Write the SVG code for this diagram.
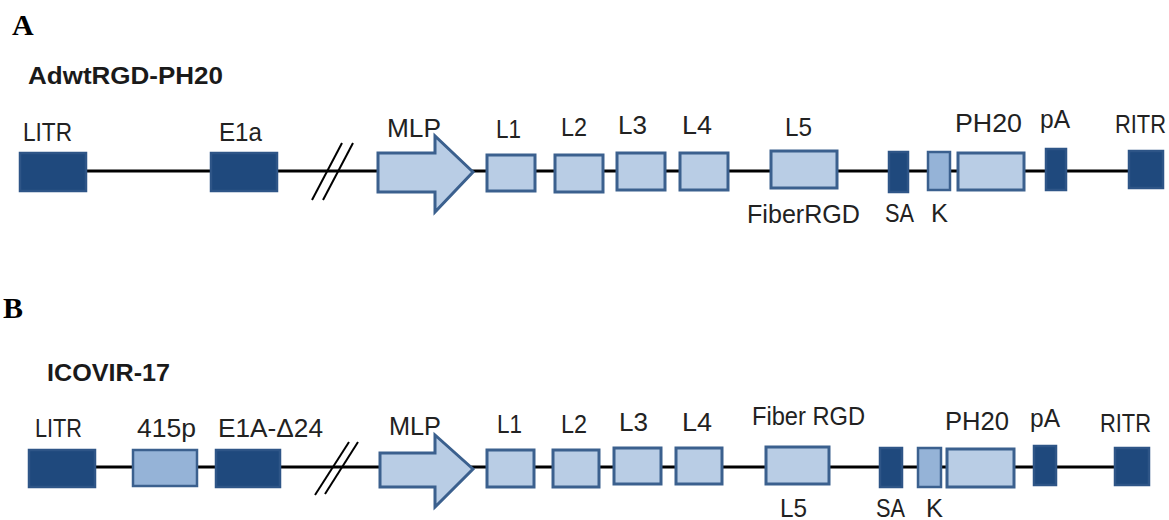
<svg xmlns="http://www.w3.org/2000/svg" width="1169" height="520" viewBox="0 0 1169 520">
  <style>
    .panel { font-family: "Liberation Serif", "Times New Roman", serif; font-weight: bold; font-size: 30px; fill: #000; }
    .title { font-family: "Liberation Sans", Arial, sans-serif; font-weight: bold; font-size: 24px; fill: #1a1a1a; }
    .lbl { font-family: "Liberation Sans", Arial, sans-serif; font-size: 26.5px; fill: #222; }
    .dark { fill: #1f497d; stroke: #2e5587; stroke-width: 2.5; }
    .light { fill: #b9cde5; stroke: #3b608e; stroke-width: 3; }
    .mid { fill: #95b3d7; stroke: #3b608e; stroke-width: 2.5; }
    .backbone { stroke: #000; stroke-width: 3; fill: none; }
    .cut { stroke: #000; stroke-width: 2; fill: none; }
  </style>

  <rect width="1169" height="520" fill="#fff"/>

  <!-- Panel A: AdwtRGD-PH20 -->
  <text class="panel" x="12" y="35">A</text>
  <text class="title" x="28" y="84" textLength="195" lengthAdjust="spacingAndGlyphs">AdwtRGD-PH20</text>

  <g id="connectors-a">
    <line class="backbone" x1="86" y1="171" x2="1129" y2="171"/>
    <line class="cut" x1="342" y1="143" x2="312" y2="200"/>
    <line class="cut" x1="353" y1="143" x2="323" y2="200"/>
  </g>

  <g id="a-litr"><rect class="dark" x="20" y="153" width="66" height="38"/>
    <text class="lbl" x="23" y="141" textLength="49" lengthAdjust="spacingAndGlyphs">LITR</text></g>
  <g id="a-e1a"><rect class="dark" x="211" y="153" width="66" height="38"/>
    <text class="lbl" x="219" y="141" textLength="43" lengthAdjust="spacingAndGlyphs">E1a</text></g>
  <g id="a-mlp"><polygon class="light" points="378,153 435,153 435,136 473,172 435,212 435,192 378,192"/>
    <text class="lbl" x="387" y="137" textLength="54" lengthAdjust="spacingAndGlyphs">MLP</text></g>
  <g id="a-l1"><rect class="light" x="487" y="155" width="48" height="36"/>
    <text class="lbl" x="496" y="138" textLength="25" lengthAdjust="spacingAndGlyphs">L1</text></g>
  <g id="a-l2"><rect class="light" x="555" y="155" width="48" height="37"/>
    <text class="lbl" x="561" y="136" textLength="26" lengthAdjust="spacingAndGlyphs">L2</text></g>
  <g id="a-l3"><rect class="light" x="617" y="153" width="48" height="37"/>
    <text class="lbl" x="618" y="134" textLength="29" lengthAdjust="spacingAndGlyphs">L3</text></g>
  <g id="a-l4"><rect class="light" x="680" y="153" width="48" height="37"/>
    <text class="lbl" x="682" y="134" textLength="30" lengthAdjust="spacingAndGlyphs">L4</text></g>
  <g id="a-l5"><rect class="light" x="771" y="151" width="66" height="37"/>
    <text class="lbl" x="785" y="136" textLength="27" lengthAdjust="spacingAndGlyphs">L5</text>
    <text class="lbl" x="747" y="223" textLength="113" lengthAdjust="spacingAndGlyphs">FiberRGD</text></g>
  <g id="a-sa"><rect class="dark" x="889" y="152" width="19" height="40"/>
    <text class="lbl" x="885" y="222" textLength="29" lengthAdjust="spacingAndGlyphs">SA</text></g>
  <g id="a-k"><rect class="mid" x="928" y="152" width="22" height="38"/>
    <text class="lbl" x="931" y="222" textLength="17" lengthAdjust="spacingAndGlyphs">K</text></g>
  <g id="a-ph20"><rect class="light" x="958" y="153" width="66" height="37"/>
    <text class="lbl" x="955" y="132" textLength="67" lengthAdjust="spacingAndGlyphs">PH20</text></g>
  <g id="a-pa"><rect class="dark" x="1046" y="149" width="20" height="41"/>
    <text class="lbl" x="1040" y="128" textLength="30" lengthAdjust="spacingAndGlyphs">pA</text></g>
  <g id="a-ritr"><rect class="dark" x="1129" y="151" width="34" height="37"/>
    <text class="lbl" x="1115" y="133" textLength="51" lengthAdjust="spacingAndGlyphs">RITR</text></g>

  <!-- Panel B: ICOVIR-17 -->
  <text class="panel" x="3" y="318">B</text>
  <text class="title" x="47" y="381" textLength="123" lengthAdjust="spacingAndGlyphs">ICOVIR-17</text>

  <g id="connectors-b">
    <line class="backbone" x1="95" y1="467" x2="1115" y2="467"/>
    <line class="cut" x1="349" y1="442" x2="315" y2="495"/>
    <line class="cut" x1="358" y1="442" x2="325" y2="494"/>
  </g>

  <g id="b-litr"><rect class="dark" x="29" y="450" width="66" height="37"/>
    <text class="lbl" x="35" y="437" textLength="47" lengthAdjust="spacingAndGlyphs">LITR</text></g>
  <g id="b-415p"><rect class="mid" x="133" y="450" width="64" height="36"/>
    <text class="lbl" x="137" y="437" textLength="59" lengthAdjust="spacingAndGlyphs">415p</text></g>
  <g id="b-e1a"><rect class="dark" x="216" y="450" width="64" height="37"/>
    <text class="lbl" x="218" y="437" textLength="105" lengthAdjust="spacingAndGlyphs">E1A-Δ24</text></g>
  <g id="b-mlp"><polygon class="light" points="380,453 435,453 435,435 473,469 435,507 435,487 380,487"/>
    <text class="lbl" x="389" y="435" textLength="52" lengthAdjust="spacingAndGlyphs">MLP</text></g>
  <g id="b-l1"><rect class="light" x="487" y="450" width="47" height="37"/>
    <text class="lbl" x="497" y="433" textLength="25" lengthAdjust="spacingAndGlyphs">L1</text></g>
  <g id="b-l2"><rect class="light" x="553" y="450" width="46" height="37"/>
    <text class="lbl" x="561" y="433" textLength="26" lengthAdjust="spacingAndGlyphs">L2</text></g>
  <g id="b-l3"><rect class="light" x="614" y="448" width="47" height="36"/>
    <text class="lbl" x="619" y="431" textLength="29" lengthAdjust="spacingAndGlyphs">L3</text></g>
  <g id="b-l4"><rect class="light" x="676" y="448" width="46" height="36"/>
    <text class="lbl" x="682" y="431" textLength="30" lengthAdjust="spacingAndGlyphs">L4</text></g>
  <g id="b-l5"><rect class="light" x="766" y="447" width="63" height="37"/>
    <text class="lbl" x="752" y="425" textLength="113" lengthAdjust="spacingAndGlyphs">Fiber RGD</text>
    <text class="lbl" x="780" y="517" textLength="27" lengthAdjust="spacingAndGlyphs">L5</text></g>
  <g id="b-sa"><rect class="dark" x="880" y="448" width="22" height="39"/>
    <text class="lbl" x="876" y="517" textLength="29" lengthAdjust="spacingAndGlyphs">SA</text></g>
  <g id="b-k"><rect class="mid" x="918" y="448" width="23" height="39"/>
    <text class="lbl" x="926" y="517" textLength="17" lengthAdjust="spacingAndGlyphs">K</text></g>
  <g id="b-ph20"><rect class="light" x="947" y="449" width="67" height="38"/>
    <text class="lbl" x="945" y="430" textLength="64" lengthAdjust="spacingAndGlyphs">PH20</text></g>
  <g id="b-pa"><rect class="dark" x="1034" y="446" width="22" height="39"/>
    <text class="lbl" x="1030" y="427" textLength="30" lengthAdjust="spacingAndGlyphs">pA</text></g>
  <g id="b-ritr"><rect class="dark" x="1115" y="448" width="34" height="37"/>
    <text class="lbl" x="1100" y="432" textLength="51" lengthAdjust="spacingAndGlyphs">RITR</text></g>
</svg>
